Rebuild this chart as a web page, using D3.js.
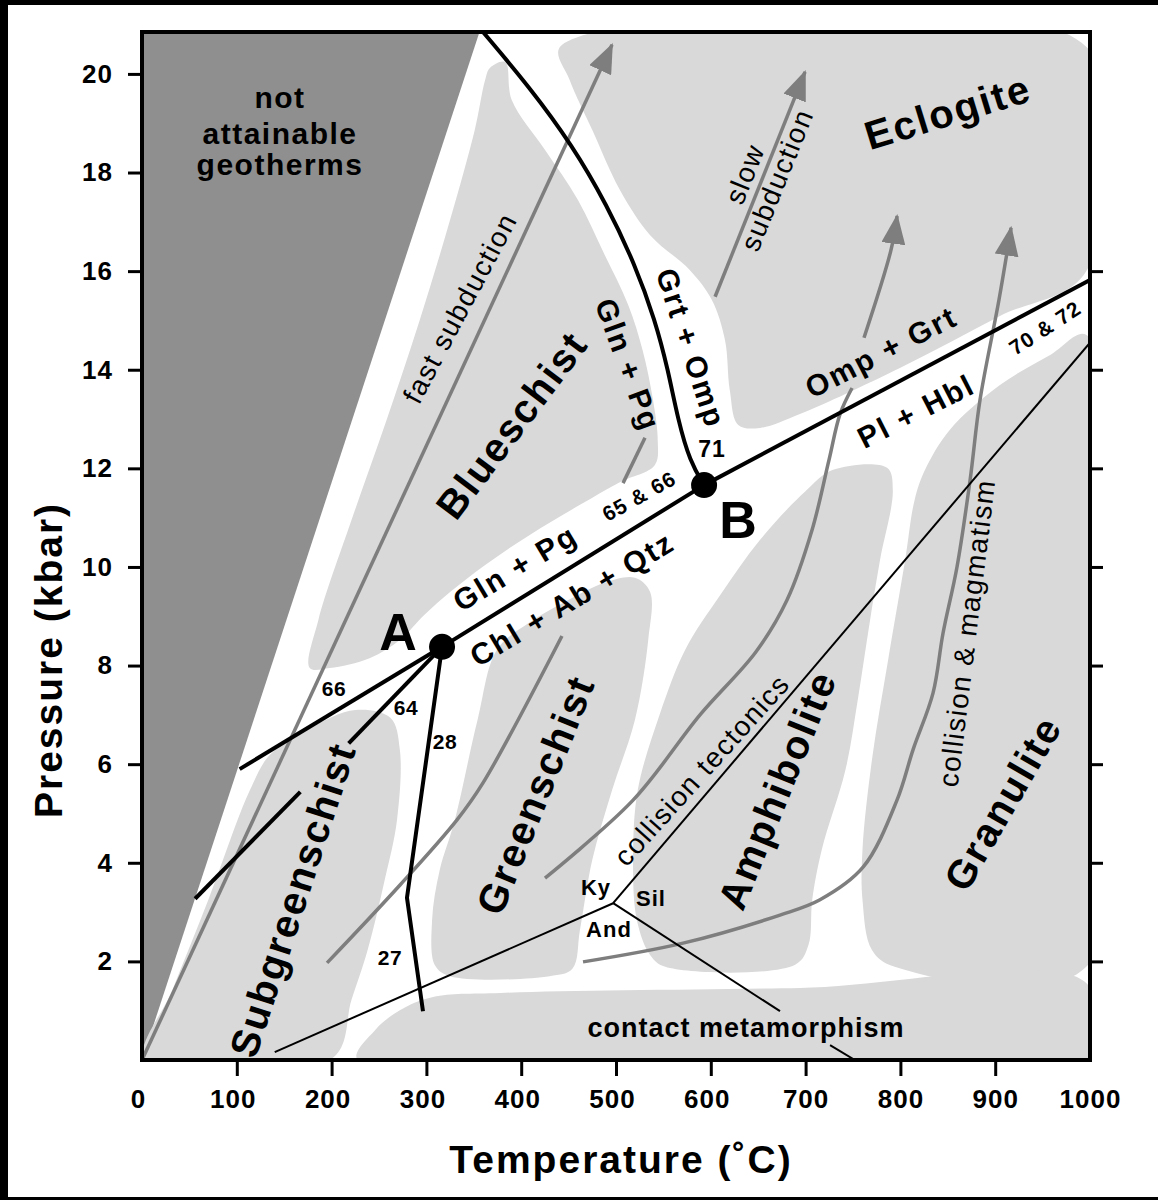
<!DOCTYPE html>
<html>
<head>
<meta charset="utf-8">
<script src="https://cdn.jsdelivr.net/npm/d3@7"></script>
<style>
  body { margin: 0; background: #fff; }
  text { font-family: "Liberation Sans", Arial, Helvetica, sans-serif; fill: #000; }
</style>
</head>
<body>
<svg id="chart" width="1158" height="1200"></svg>
<script>
// ---- data (temperature in °C, pressure in kbar) ----
const xTicks = [0, 100, 200, 300, 400, 500, 600, 700, 800, 900, 1000];
const yTicks = [2, 4, 6, 8, 10, 12, 14, 16, 18, 20];

const notAttainable = [[0, 0], [356, 20.85], [0, 20.85]];

const blueschistField = [[367, 20.12], [383, 20.24], [390, 19.47], [425, 18.46], [460, 17.44], [488, 16.33],
  [513, 15.31], [528, 14.4], [539, 13.39], [544, 12.58], [541, 12.07], [504, 11.72], [462, 11.26],
  [409, 10.65], [362, 10.04], [325, 9.49], [298, 9.03], [272, 8.52], [240, 8.15], [198, 7.95],
  [177, 7.95], [186, 8.92], [221, 10.95], [258, 12.98], [293, 15.01], [325, 17.04], [351, 18.86], [362, 19.88]];
const eclogiteField = [[441, 20.55], [996, 20.55], [996, 16.0], [905, 15.09], [800, 14.04], [694, 13.1],
  [652, 12.82], [629, 12.88], [620, 13.59], [615, 14.6], [601, 15.42], [578, 16.02], [536, 16.73],
  [504, 17.65], [475, 18.86], [451, 19.88]];
const subgreenschistField = [[3, 0], [201, 0.04], [221, 1.22], [238, 2.23], [256, 3.65], [269, 4.87],
  [272, 6.29], [262, 6.94], [225, 7.1], [177, 6.73], [135, 6.19], [114, 5.48], [70, 3.25], [32, 1.42]];
const greenschistField = [[374.5, 8.32], [409, 8.88], [444, 9.27], [488, 9.68], [520, 9.78], [536, 9.49],
  [534, 8.52], [520, 6.9], [496, 5.48], [475, 4.06], [462, 2.64], [454, 1.85], [430, 1.7], [325, 1.7],
  [309, 1.92], [306, 2.84], [314, 3.85], [330, 4.87], [354, 6.9]];
const amphiboliteField = [[729, 11.97], [786, 12.01], [792, 11.56], [778.5, 10.14], [768, 8.92], [755, 7.3],
  [742, 5.88], [717, 4.26], [707, 3.25], [703, 2.33], [689, 1.93], [552, 1.89], [536, 2.13], [522, 2.84],
  [518, 4.06], [523, 5.48], [546, 7.0], [573, 8.32], [610, 9.43], [652, 10.55], [699, 11.52]];
const granuliteField = [[826, 11.97], [852, 12.78], [905, 13.69], [958, 14.3], [996, 14.71], [996, 1.89],
  [794, 1.89], [770, 2.23], [760, 3.25], [760, 4.26], [770, 6.09], [787, 8.11], [805, 10.14], [815, 11.36]];
const contactField = [[227, 0], [246, 0.61], [272, 1.01], [307, 1.28], [378, 1.36], [694, 1.46],
  [996, 1.56], [996, 0]];

// reaction lines
const reaction66 = [[103, 5.9], [316.5, 8.38]];
const reaction64 = [[218, 6.42], [316.5, 8.38]];
const reaction64Low = [[56, 3.27], [167, 5.44]];
const reaction28 = [[316.5, 8.38], [279.5, 3.29], [296.4, 0.99]];
const reactionAB = [[316.5, 8.38], [592.9, 11.66]];
const reaction70 = [[592.9, 11.66], [1000, 15.82]];
const reaction71 = [[359.7, 20.85], [409.3, 19.72], [453.6, 18.56], [490.5, 17.34], [520.1, 16.13],
  [541.2, 15.01], [554.9, 14.0], [565.4, 12.98], [578.1, 12.13], [592.9, 11.66]];
const kySil = [[497, 3.18], [1000, 14.55]];
const andKy = [[140, 0.16], [497, 3.18]];
const andSil = [[497, 3.18], [673, 0.99]];
const andSilLow = [[725.8, 0.3], [752, 0]];

// P-T paths
const fastSubduction = [[0, 0], [495.8, 20.59]];
const slowSubduction = [[604.5, 15.48], [699.4, 20.04]];
const tectonicsLow = [[425.1, 3.69], [518, 5.27], [588.6, 7.0], [647.7, 8.28], [680.4, 9.33], [706.8, 10.75],
  [724.7, 12.17], [736.3, 13.1], [749, 13.63]];
const tectonicsHigh = [[761.6, 14.65], [790.1, 16.43], [796.5, 17.12]];
const magmatismPath = [[465.2, 1.99], [570.7, 2.37], [673, 2.94], [715.2, 3.25], [760.6, 3.91], [796.4, 5.27],
  [813.3, 6.29], [834.4, 7.44], [845, 8.66], [859.7, 10.0], [873.5, 11.76], [884, 13.39], [904, 15.42], [916.7, 16.88]];
const greenschistPath = [[195.2, 1.97], [272.2, 3.55], [332.3, 4.87], [359.7, 5.62], [443, 8.6]];
const glnPgPath = [[507.4, 11.7], [530.6, 12.62]];

const invariantPoints = [{ name: "A", T: 316.5, P: 8.38 }, { name: "B", T: 592.9, P: 11.66 }];

// labels
const notAttainableLines = [{ text: "not", P: 19.31 }, { text: "attainable", P: 18.58 }, { text: "geotherms", P: 17.95 }];
const faciesLabels = [
  { text: "Blueschist", T: 390, P: 12.88 },
  { text: "Eclogite", T: 850, P: 19.23 },
  { text: "Subgreenschist", T: 159, P: 3.25 },
  { text: "Greenschist", T: 415, P: 5.38 },
  { text: "Amphibolite", T: 670, P: 5.48 },
  { text: "Granulite", T: 908, P: 5.21 }
];
const mineralLabels = [
  { text: "Gln + Pg", T: 393.5, P: 9.98 },
  { text: "Chl + Ab + Qtz", T: 453.6, P: 9.35 },
  { text: "Gln + Pg", T: 512.7, P: 14.1 },
  { text: "Grt + Omp", T: 579.1, P: 14.44 },
  { text: "Omp + Grt", T: 779.6, P: 14.36 },
  { text: "Pl + Hbl", T: 816.5, P: 13.16 }
];
const reactionNumbers = [
  { text: "66", T: 202.5, P: 7.53 },
  { text: "64", T: 278.5, P: 7.14 },
  { text: "28", T: 319.6, P: 6.45 },
  { text: "27", T: 261.6, P: 2.07 },
  { text: "71", T: 601.3, P: 12.39 },
  { text: "65 & 66", T: 524.3, P: 11.44 },
  { text: "70 & 72", T: 952.6, P: 14.85 }
];
const aluminosilicateLabels = [
  { text: "Ky", T: 478.9, P: 3.49 },
  { text: "Sil", T: 536.9, P: 3.27 },
  { text: "And", T: 492.6, P: 2.64 }
];
const pathLabels = [
  { text: "fast subduction", T: 335.5, P: 15.25 },
  { text: "slow", T: 636.1, P: 17.97 },
  { text: "subduction", T: 669.9, P: 17.85 },
  { text: "collision tectonics", T: 590.7, P: 5.88 },
  { text: "collision & magmatism", T: 870.3, P: 8.66 }
];
const contactLabel = { text: "contact metamorphism", T: 637.2, P: 0.65 };
const pointLabelAnchors = [[270.1, 8.68], [628.7, 10.95]];

// ---- styling ----
const faciesAngles = [-53, -17, -72, -68, -68, -60];
const mineralAngles = [-31, -31, 70, 72, -27, -27];
const numberAngles = [0, 0, 0, 0, 0, -29, -33];
const pathAngles = [-62, -68, -68, -48, -83];

const darkGrey = "#8f8f8f";
const lightGrey = "#d9d9d9";
const pathGrey = "#7e7e7e";

const svg = d3.select("#chart");
const x = d3.scaleLinear().domain([0, 1000]).range([142, 1090]);
const y = d3.scaleLinear().domain([0, 20.85]).range([1060, 32]);

// page border like the scan
svg.append("rect").attr("x", 0).attr("y", 0).attr("width", 1158).attr("height", 5).attr("fill", "#000");
svg.append("rect").attr("x", 0).attr("y", 0).attr("width", 8).attr("height", 1200).attr("fill", "#000");
svg.append("rect").attr("x", 0).attr("y", 1197).attr("width", 1158).attr("height", 3).attr("fill", "#000");

const defs = svg.append("defs");
defs.append("clipPath").attr("id", "plotClip").append("rect")
  .attr("x", x(0)).attr("y", y(20.85)).attr("width", x(1000) - x(0)).attr("height", y(0) - y(20.85));
defs.append("marker")
  .attr("id", "arrowHead")
  .attr("viewBox", "0 0 30 24")
  .attr("refX", 28).attr("refY", 12)
  .attr("markerWidth", 30).attr("markerHeight", 24)
  .attr("markerUnits", "userSpaceOnUse")
  .attr("orient", "auto")
  .append("path").attr("d", "M0,0 L30,12 L0,24 Z").attr("fill", pathGrey);

const plot = svg.append("g").attr("clip-path", "url(#plotClip)");

const straight = d3.line().x(d => x(d[0])).y(d => y(d[1]));
const smooth = d3.line().x(d => x(d[0])).y(d => y(d[1])).curve(d3.curveCatmullRom.alpha(0.5));
const soft = d3.line().x(d => x(d[0])).y(d => y(d[1])).curve(d3.curveBasis);
const blob = d3.line().x(d => x(d[0])).y(d => y(d[1])).curve(d3.curveCatmullRomClosed.alpha(0.5));

plot.append("path").attr("d", straight(notAttainable) + "Z").attr("fill", darkGrey);

[blueschistField, eclogiteField, subgreenschistField, greenschistField,
  amphiboliteField, granuliteField, contactField].forEach(f => {
  plot.append("path").attr("d", blob(f)).attr("fill", lightGrey);
});

// grey P-T paths
const greyPaths = [
  { pts: fastSubduction, gen: straight, head: true },
  { pts: slowSubduction, gen: straight, head: true },
  { pts: tectonicsLow, gen: smooth, head: false },
  { pts: tectonicsHigh, gen: smooth, head: true },
  { pts: magmatismPath, gen: smooth, head: true },
  { pts: greenschistPath, gen: smooth, head: false },
  { pts: glnPgPath, gen: straight, head: false }
];
greyPaths.forEach(p => {
  plot.append("path")
    .attr("d", p.gen(p.pts))
    .attr("fill", "none")
    .attr("stroke", pathGrey)
    .attr("stroke-width", 3.5)
    .attr("marker-end", p.head ? "url(#arrowHead)" : null);
});

// thin aluminosilicate lines
[kySil, andKy, andSil, andSilLow].forEach(l => {
  plot.append("path").attr("d", straight(l)).attr("fill", "none")
    .attr("stroke", "#000").attr("stroke-width", 2);
});

// reaction lines
[reaction66, reaction64, reaction64Low, reaction28, reactionAB, reaction70].forEach(l => {
  plot.append("path").attr("d", straight(l)).attr("fill", "none")
    .attr("stroke", "#000").attr("stroke-width", 4).attr("stroke-linejoin", "round");
});
plot.append("path").attr("d", soft(reaction71)).attr("fill", "none")
  .attr("stroke", "#000").attr("stroke-width", 4);

plot.selectAll("circle.inv").data(invariantPoints).enter().append("circle")
  .attr("class", "inv")
  .attr("cx", d => x(d.T)).attr("cy", d => y(d.P)).attr("r", 13).attr("fill", "#000");

// frame
svg.append("rect")
  .attr("x", x(0)).attr("y", y(20.85))
  .attr("width", x(1000) - x(0)).attr("height", y(0) - y(20.85))
  .attr("fill", "none").attr("stroke", "#000").attr("stroke-width", 4);

// axes
const axisLeft = svg.append("g").attr("transform", `translate(${x(0) - 2},0)`)
  .call(d3.axisLeft(y).tickValues(yTicks).tickSize(12).tickPadding(15).tickFormat(d3.format("d")));
const axisRight = svg.append("g").attr("transform", `translate(${x(1000) + 2},0)`)
  .call(d3.axisRight(y).tickValues(yTicks.filter(v => v <= 16)).tickSize(11).tickFormat(""));
const axisBottom = svg.append("g").attr("transform", `translate(0,${y(0) + 2})`)
  .call(d3.axisBottom(x).tickValues(xTicks).tickSize(14).tickPadding(14).tickFormat(d3.format("d")));
[axisLeft, axisRight, axisBottom].forEach(a => {
  a.select(".domain").remove();
  a.selectAll("line").attr("stroke", "#000").attr("stroke-width", 3);
  a.selectAll("text").attr("font-size", 26).attr("font-weight", "bold")
    .attr("letter-spacing", 1).attr("fill", "#000")
    .style("font-family", '"Liberation Sans", Arial, sans-serif');
});
axisBottom.selectAll(".tick").filter(d => d === 0 || d === 1000).select("line").remove();
axisBottom.selectAll(".tick text").attr("dx", d => d <= 600 ? -4 : 0);

svg.append("text")
  .attr("x", 621).attr("y", 1173)
  .attr("text-anchor", "middle")
  .attr("font-size", 39).attr("font-weight", "bold").attr("letter-spacing", 2)
  .text("Temperature (˚C)");
svg.append("text")
  .attr("transform", "translate(62,660) rotate(-90)")
  .attr("text-anchor", "middle")
  .attr("font-size", 39).attr("font-weight", "bold").attr("letter-spacing", 2)
  .text("Pressure (kbar)");

// labels
const labels = svg.append("g");
function addLabels(list, angles, size, weight, spacing) {
  list.forEach((d, i) => {
    labels.append("text")
      .attr("transform", `translate(${x(d.T)},${y(d.P)}) rotate(${angles ? angles[i] : 0})`)
      .attr("text-anchor", "middle")
      .attr("dominant-baseline", "central")
      .attr("font-size", size)
      .attr("font-weight", weight)
      .attr("letter-spacing", spacing)
      .text(d.text);
  });
}
notAttainableLines.forEach(d => {
  labels.append("text")
    .attr("x", x(145.6)).attr("y", y(d.P))
    .attr("text-anchor", "middle")
    .attr("font-size", 30).attr("font-weight", "bold").attr("letter-spacing", 1.5)
    .text(d.text);
});
addLabels(faciesLabels, faciesAngles, 40, "bold", 2);
addLabels(mineralLabels, mineralAngles, 30, "bold", 2);
addLabels(reactionNumbers.slice(0, 4), null, 21, "bold", 0.5);
addLabels(reactionNumbers.slice(4, 5), null, 23, "bold", 1);
addLabels(reactionNumbers.slice(5), numberAngles.slice(5), 21, "bold", 1);
addLabels(aluminosilicateLabels, null, 22, "bold", 1);
addLabels(pathLabels, pathAngles, 28, "normal", 1.5);
addLabels([contactLabel], null, 27, "bold", 1);
addLabels(invariantPoints.map((d, i) => ({ text: d.name, T: pointLabelAnchors[i][0], P: pointLabelAnchors[i][1] })),
  null, 52, "bold", 0);
</script>
</body>
</html>
